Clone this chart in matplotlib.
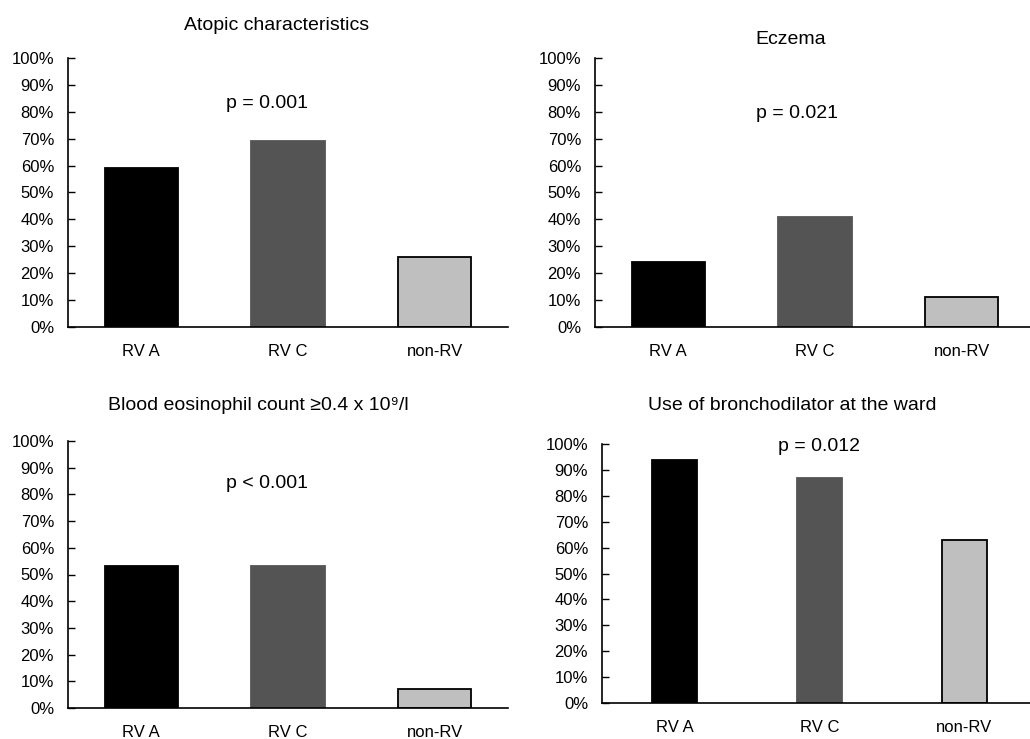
"""Four bar panels: RV A / RV C / non-RV percentages."""
import matplotlib
matplotlib.use("Agg")
import matplotlib.pyplot as plt
from matplotlib.ticker import PercentFormatter

plt.rcParams["font.family"] = ["Liberation Sans", "DejaVu Sans"]

groups = ["RV A", "RV C", "non-RV"]
bar_colors = ["#000000", "#545454", "#bfbfbf"]

titles = [
    "Atopic characteristics",
    "Eczema",
    "Blood eosinophil count \u22650.4 x 10\u2079/l",
    "Use of bronchodilator at the ward",
]
p_labels = ["p = 0.001", "p = 0.021", "p < 0.001", "p = 0.012"]

atopic = [59, 69, 26]
eczema = [24, 41, 11]
eosinophil = [53, 53, 7]
bronchodilator = [94, 87, 63]
panel_values = [atopic, eczema, eosinophil, bronchodilator]

W, H = 1030, 739
fig = plt.figure(figsize=(W / 100, H / 100), dpi=100)

# axes boxes in pixels: left, right, top, bottom
boxes = [
    (68, 508, 58, 327),
    (595, 1035, 58, 327),
    (68, 508, 441, 708),
    (602, 1037, 444, 703),
]
bar_widths = [0.5, 0.5, 0.5, 0.31]
title_pos = [(277, 26), (791, 40), (258, 406), (792, 406)]
p_pos = [(0.86, 83), (0.88, 79.5), (0.86, 84), (1.0, 99)]

for i, (l, r, t, b) in enumerate(boxes):
    ax = fig.add_axes([l / W, 1 - b / H, (r - l) / W, (b - t) / H])
    x = range(len(groups))
    ax.bar(x, panel_values[i], width=bar_widths[i], color=bar_colors,
           edgecolor=["#000000", "#545454", "#000000"], linewidth=1.3)
    ax.set_xlim(-0.5, 2.5)
    ax.set_ylim(0, 100)
    ax.set_yticks(range(0, 101, 10))
    ax.yaxis.set_major_formatter(PercentFormatter(decimals=0))
    ax.set_xticks(list(x))
    ax.set_xticklabels(groups)
    ax.tick_params(axis="y", direction="in", length=5, width=1,
                   labelsize=12, pad=10)
    ax.tick_params(axis="x", length=0, labelsize=12, pad=12)
    for side in ("top", "right"):
        ax.spines[side].set_visible(False)
    for side in ("left", "bottom"):
        ax.spines[side].set_linewidth(1.2)
    ax.text(p_pos[i][0], p_pos[i][1], p_labels[i], ha="center",
            va="center", fontsize=14)
    fig.text(title_pos[i][0] / W, 1 - title_pos[i][1] / H, titles[i],
             ha="center", va="center", fontsize=14)

fig.savefig("out.png", dpi=100)
